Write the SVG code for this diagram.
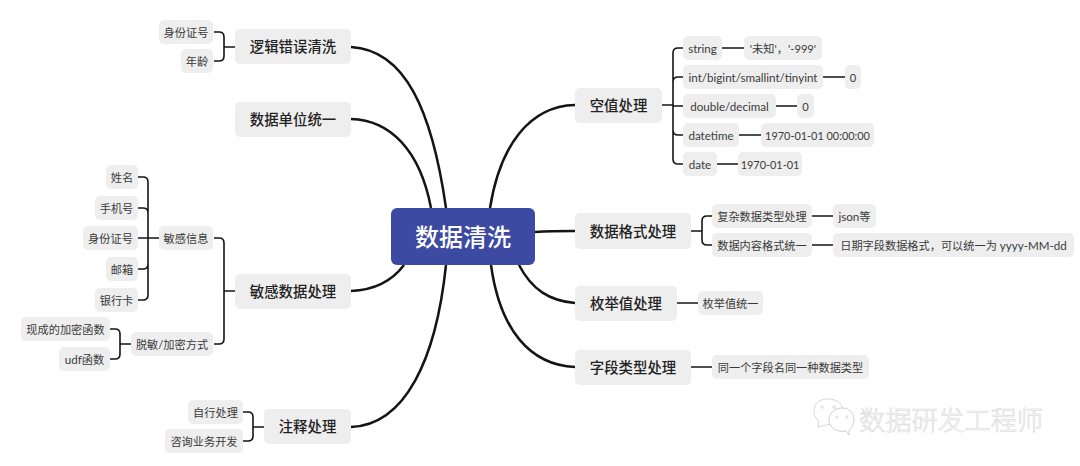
<svg xmlns="http://www.w3.org/2000/svg" width="1080" height="466" viewBox="0 0 1080 466">
<style>
text{font-family:"Lato","Noto Sans CJK SC",sans-serif;text-anchor:middle;dominant-baseline:central}
.n{fill:#eeeeee}
.l1 text{font-size:14.4px;font-weight:500;fill:#222}
.l2 text{font-size:11.2px;fill:#3a3a3a}
.l2 text.en,.l2 tspan.en{font-size:11.6px}
.l2 text.num{font-size:10.9px}
.c path{fill:none;stroke:#141414;stroke-width:1.6;stroke-linecap:butt}
.c .m{stroke-width:2.5}
.wm{font-family:"Noto Sans CJK SC",sans-serif;font-size:26.3px;font-weight:300;fill:#fff;stroke:#d0d0d0;stroke-width:.5;text-anchor:start}
</style>
<rect width="1080" height="466" fill="#fff"/>
<g class="c" id="connectors">
<path class="m" d="M351 47C405 50 432 110 446 208"/>
<path class="m" d="M351 119C390 120 420 150 431 208"/>
<path class="m" d="M351 291C375 290 392 281 404 265"/>
<path class="m" d="M351 427C405 425 436 360 446 265"/>
<path class="m" d="M575 105C530 106 500 145 490 208"/>
<path class="m" d="M535 232C550 231 560 231 575 231"/>
<path class="m" d="M575 303C550 301 532 290 519 265"/>
<path class="m" d="M575 367C530 365 500 330 491 265"/>
<path d="M235 47H224M214 32H219Q224 32 224 37V56Q224 61 219 61H214"/>
<path d="M235 291H224M214 238H219Q224 238 224 243V339Q224 344 219 344H214"/>
<path d="M159 238H138M138 177H143Q148 177 148 182V295Q148 300 143 300H138M138 208H143Q148 208 148 213M138 269H143Q148 269 148 264"/>
<path d="M131 344H120M110 329H115Q120 329 120 334V354Q120 359 115 359H110"/>
<path d="M264 427H253M243 412H248Q253 412 253 417V436Q253 441 248 441H243"/>
<path d="M662 105H673M683 48H678Q673 48 673 53V159Q673 164 678 164H683M683 77H678Q673 77 673 82M683 135H678Q673 135 673 130M673 106H683"/>
<path d="M691 231H702M712 216H707Q702 216 702 221V240Q702 245 707 245H712"/>
<path d="M722 48H744M823 77H845M776 106H797M739 135H761M717 164H738M812 216H833M812 245H833M677 303H698M691 367H712"/>
</g>
<g id="root"><rect x="391" y="208" width="144" height="57" rx="6" fill="#3c4aa2"/><text x="463" y="236" font-size="24" font-weight="500" fill="#fff">数据清洗</text></g>
<g id="n-luoji" class="l1"><rect class="n" x="235" y="29" width="116" height="35" rx="5"/><text x="293" y="46.500">逻辑错误清洗</text></g>
<g id="n-danwei" class="l1"><rect class="n" x="235" y="102" width="116" height="35" rx="5"/><text x="293" y="119.500">数据单位统一</text></g>
<g id="n-mingan" class="l1"><rect class="n" x="235" y="274" width="116" height="35" rx="5"/><text x="293" y="291.500">敏感数据处理</text></g>
<g id="n-zhushi" class="l1"><rect class="n" x="264" y="409" width="87" height="35" rx="5"/><text x="307.500" y="426.500">注释处理</text></g>
<g id="n-kong" class="l1"><rect class="n" x="575" y="88" width="87" height="35" rx="5"/><text x="618.500" y="105.500">空值处理</text></g>
<g id="n-geshi" class="l1"><rect class="n" x="575" y="213" width="116" height="36" rx="5"/><text x="633" y="231">数据格式处理</text></g>
<g id="n-meiju" class="l1"><rect class="n" x="575" y="286" width="102" height="35" rx="5"/><text x="626" y="303.500">枚举值处理</text></g>
<g id="n-ziduan" class="l1"><rect class="n" x="575" y="350" width="116" height="35" rx="5"/><text x="633" y="367.500">字段类型处理</text></g>
<g id="a1" class="l2"><rect class="n" x="159" y="20" width="54" height="24" rx="5"/><text x="186" y="32">身份证号</text></g>
<g id="a2" class="l2"><rect class="n" x="181" y="49" width="32" height="24" rx="5"/><text x="197" y="61">年龄</text></g>
<g id="b1" class="l2"><rect class="n" x="159" y="226" width="54" height="24" rx="5"/><text x="186" y="238">敏感信息</text></g>
<g id="b2" class="l2"><rect class="n" x="131" y="332" width="82" height="24" rx="5"/><text x="172" y="344">脱敏/加密方式</text></g>
<g id="c1" class="l2"><rect class="n" x="106" y="165" width="32" height="24" rx="5"/><text x="122" y="177">姓名</text></g>
<g id="c2" class="l2"><rect class="n" x="95" y="196" width="43" height="24" rx="5"/><text x="116.500" y="208">手机号</text></g>
<g id="c3" class="l2"><rect class="n" x="83" y="226" width="55" height="24" rx="5"/><text x="110.500" y="238">身份证号</text></g>
<g id="c4" class="l2"><rect class="n" x="106" y="257" width="32" height="24" rx="5"/><text x="122" y="269">邮箱</text></g>
<g id="c5" class="l2"><rect class="n" x="95" y="288" width="43" height="24" rx="5"/><text x="116.500" y="300">银行卡</text></g>
<g id="d1" class="l2"><rect class="n" x="21" y="317" width="89" height="24" rx="5"/><text x="65.500" y="329">现成的加密函数</text></g>
<g id="d2" class="l2"><rect class="n" x="59" y="347" width="51" height="24" rx="5"/><text x="84.500" y="359"><tspan class="en">udf</tspan>函数</text></g>
<g id="e1" class="l2"><rect class="n" x="188" y="400" width="55" height="24" rx="5"/><text x="215.500" y="412">自行处理</text></g>
<g id="e2" class="l2"><rect class="n" x="165" y="429" width="78" height="24" rx="5"/><text x="204" y="441">咨询业务开发</text></g>
<g id="f1" class="l2"><rect class="n" x="683" y="36" width="39" height="24" rx="5"/><text class="en" x="702.500" y="48">string</text></g>
<g id="f1v" class="l2"><rect class="n" x="744" y="36" width="78" height="24" rx="5"/><text x="783" y="48">'未知'，'-999'</text></g>
<g id="f2" class="l2"><rect class="n" x="683" y="65" width="140" height="24" rx="5"/><text class="en" x="753" y="77">int/bigint/smallint/tinyint</text></g>
<g id="f2v" class="l2"><rect class="n" x="845" y="65" width="16" height="24" rx="5"/><text x="853" y="77">0</text></g>
<g id="f3" class="l2"><rect class="n" x="683" y="94" width="93" height="24" rx="5"/><text class="en" x="729.500" y="106">double/decimal</text></g>
<g id="f3v" class="l2"><rect class="n" x="797" y="94" width="17" height="24" rx="5"/><text x="805.500" y="106">0</text></g>
<g id="f4" class="l2"><rect class="n" x="683" y="123" width="56" height="24" rx="5"/><text class="en" x="711" y="135">datetime</text></g>
<g id="f4v" class="l2"><rect class="n" x="761" y="123" width="113" height="24" rx="5"/><text class="num" x="817.500" y="135">1970-01-01 00:00:00</text></g>
<g id="f5" class="l2"><rect class="n" x="683" y="152" width="34" height="24" rx="5"/><text class="en" x="700" y="164">date</text></g>
<g id="f5v" class="l2"><rect class="n" x="738" y="152" width="64" height="24" rx="5"/><text class="num" x="770" y="164">1970-01-01</text></g>
<g id="g1" class="l2"><rect class="n" x="712" y="204" width="100" height="24" rx="5"/><text x="762" y="216">复杂数据类型处理</text></g>
<g id="g1v" class="l2"><rect class="n" x="833" y="204" width="43" height="24" rx="5"/><text x="854.500" y="216"><tspan class="en">json</tspan>等</text></g>
<g id="g2" class="l2"><rect class="n" x="712" y="233" width="100" height="24" rx="5"/><text x="762" y="245">数据内容格式统一</text></g>
<g id="g2v" class="l2"><rect class="n" x="833" y="233" width="241" height="24" rx="5"/><text x="953.500" y="245">日期字段数据格式，可以统一为 <tspan class="en">yyyy-MM-dd</tspan></text></g>
<g id="h1" class="l2"><rect class="n" x="698" y="291" width="65" height="24" rx="5"/><text x="730.500" y="303">枚举值统一</text></g>
<g id="i1" class="l2"><rect class="n" x="712" y="355" width="157" height="24" rx="5"/><text x="790.500" y="367">同一个字段名同一种数据类型</text></g>
<g id="watermark">
<path d="M818 427L819 421C811 416 812 400 826 399C837 398 844 405 843 412L833 424L826 425Z" fill="#fff" stroke="#d2d2d2" stroke-width=".9"/>
<path d="M849 435L846 431C836 433 829 427 829 420C829 413 835 408 842 408C850 408 854 414 854 420C854 425 851 428 849 430Z" fill="#fff" stroke="#c8c8c8" stroke-width=".9"/>
<circle cx="822" cy="407" r="1.300" fill="#fff" stroke="#c8c8c8" stroke-width=".6"/><circle cx="834" cy="407" r="1.300" fill="#fff" stroke="#c8c8c8" stroke-width=".6"/>
<circle cx="837" cy="417" r="1.100" fill="#fff" stroke="#c8c8c8" stroke-width=".6"/><circle cx="847" cy="417" r="1.100" fill="#fff" stroke="#c8c8c8" stroke-width=".6"/>
<text class="wm" x="859" y="418">数据研发工程师</text>
</g>
</svg>
